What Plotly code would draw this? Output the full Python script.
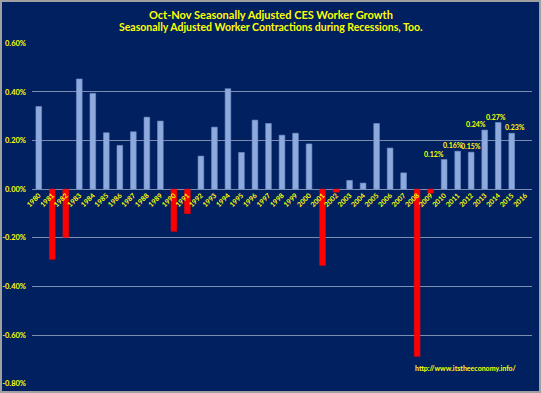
import plotly.graph_objects as go

# ---- data ----
years = [str(y) for y in range(1980, 2017)]
growth_pct = [0.340, -0.288, -0.198, 0.453, 0.394, 0.232, 0.180, 0.236, 0.296, 0.280,
              -0.173, -0.100, 0.136, 0.255, 0.413, 0.151, 0.284, 0.270, 0.222, 0.230,
              0.186, -0.313, -0.012, 0.036, 0.025, 0.270, 0.169, 0.067, -0.687, -0.016,
              0.122, 0.156, 0.152, 0.243, 0.274, 0.230, None]
labeled_years = ["2010", "2011", "2012", "2013", "2014", "2015"]
label_dx = [-10, -5, 0, -9, -2, 3]

title_line1 = "Oct-Nov Seasonally Adjusted CES Worker Growth"
title_line2 = "Seasonally Adjusted Worker Contractions during Recessions, Too."
source_text = "http://www.itstheeconomy.info/"
y_ticks = [-0.8, -0.6, -0.4, -0.2, 0.0, 0.2, 0.4, 0.6]

# ---- layout constants ----
W, H = 541, 393
L, R, T, B = 32, 9, 43, 9
NAVY = "#002060"
YELLOW = "#FFFF00"
GRID = "#7d8db0"
FONT = "Lato"
ymin, ymax = -0.8, 0.6

colors = ["#FF0000" if (v is not None and v < 0) else "#8EA9DB" for v in growth_pct]
lines = ["#FF0000" if (v is not None and v < 0) else "#7391CC" for v in growth_pct]

fig = go.Figure()
fig.add_trace(go.Bar(
    x=years, y=growth_pct,
    marker=dict(color=colors, line=dict(color=lines, width=0.6)),
    hoverinfo="x+y",
))

vals = dict(zip(years, growth_pct))
for yr, dx in zip(labeled_years, label_dx):
    v = vals[yr]
    fig.add_annotation(x=years.index(yr), y=v, text=f"{v:.2f}%", showarrow=False,
                       xshift=dx, yshift=6, yanchor="middle",
                       font=dict(family=FONT, size=7, color=YELLOW, weight="bold"))

pw = W - L - R
ph = H - T - B
def px_x(x):
    return (x - L) / pw
def px_y(y):
    return (H - B - y) / ph

fig.add_annotation(xref="paper", yref="paper", x=px_x(466), y=px_y(368),
                   text=source_text, showarrow=False, xanchor="center", yanchor="middle",
                   font=dict(family=FONT, size=7, color=YELLOW, weight="bold"))

fig.add_annotation(xref="paper", yref="paper", x=px_x(270.5), y=px_y(14),
                   text=title_line1, showarrow=False, xanchor="center", yanchor="middle",
                   font=dict(family=FONT, size=11, color=YELLOW, weight="bold"))
fig.add_annotation(xref="paper", yref="paper", x=px_x(270.5), y=px_y(27),
                   text=title_line2, showarrow=False, xanchor="center", yanchor="middle",
                   font=dict(family=FONT, size=10.5, color=YELLOW, weight="bold"))

# outer border
fig.add_shape(type="rect", xref="paper", yref="paper",
              x0=px_x(1), x1=px_x(W - 1), y0=px_y(H - 1), y1=px_y(1),
              line=dict(color="#a0a0a0", width=2), layer="above")

fig.update_layout(
    width=W, height=H,
    margin=dict(l=L, r=R, t=T, b=B, pad=0, autoexpand=False),
    paper_bgcolor=NAVY, plot_bgcolor=NAVY,
    showlegend=False,
    bargap=0.58,
    xaxis=dict(type="category", anchor="free", position=(0 - ymin) / (ymax - ymin),
               range=[-0.5, len(years) - 0.5], automargin=False,
               showgrid=False, zeroline=False, showline=False, ticks="",
               tickangle=-45,
               tickfont=dict(family=FONT, size=7, color=YELLOW, weight="bold")),
    yaxis=dict(range=[ymin - 0.001, ymax + 0.001], tickvals=y_ticks, automargin=False,
               ticktext=[f"{v:.2f}%" for v in y_ticks],
               showgrid=True, gridcolor=GRID, gridwidth=1.2,
               zeroline=True, zerolinecolor=GRID, zerolinewidth=1.2,
               showline=False, ticks="", ticklabelstandoff=5,
               tickfont=dict(family=FONT, size=7.5, color=YELLOW, weight="bold")),
)

fig.write_html("out.html", config={"displayModeBar": False},
               post_script="document.body.style.margin='0';document.body.style.overflow='hidden';")
